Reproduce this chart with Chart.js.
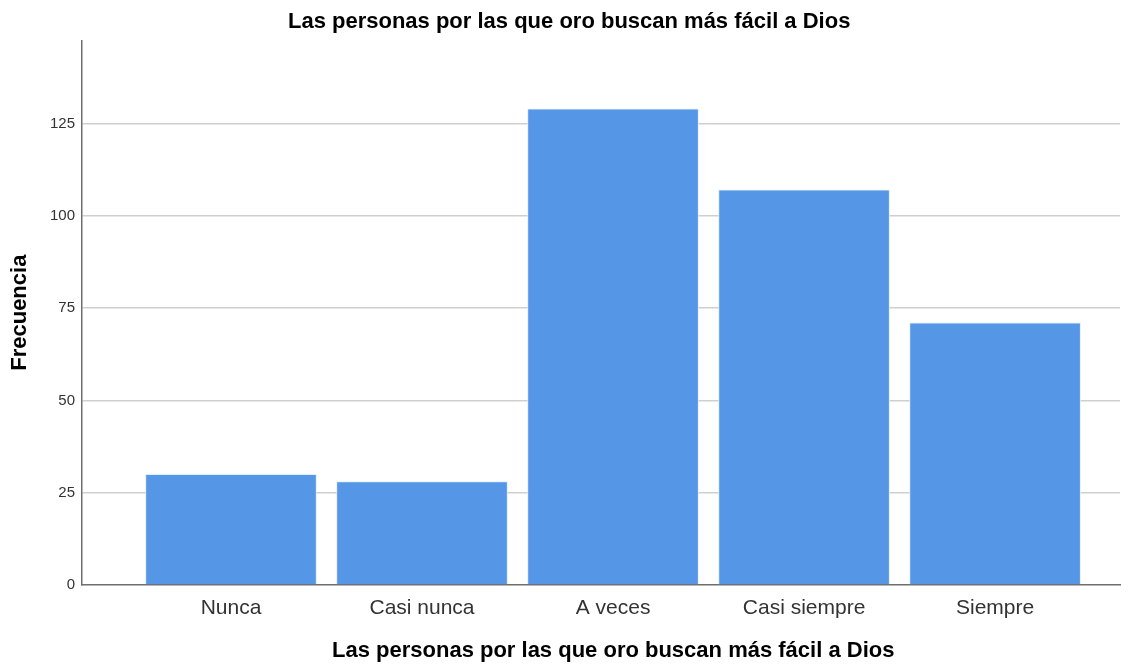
<!DOCTYPE html>
<html>
<head>
<meta charset="utf-8">
<script src="https://cdn.jsdelivr.net/npm/chart.js@4.4.0/dist/chart.umd.min.js"></script>
<style>
  html, body { margin: 0; padding: 0; background: #fff; }
  .chart-box { width: 1135px; height: 664px; }
</style>
</head>
<body>
<div class="chart-box">
    <canvas id="myChart"></canvas>
</div>
<script>
const categories = ["Nunca", "Casi nunca", "A veces", "Casi siempre", "Siempre"];
const frecuencias = [30, 28, 129, 107, 71];
const yTicks = [0, 25, 50, 75, 100, 125];

const chartTitle = "Las personas por las que oro buscan más fácil a Dios";
const fontFamily = "Arial, 'Liberation Sans', sans-serif";
// leading no-break spaces nudge the centred titles right, as in the original
const nbsp = n => "\u00a0".repeat(n);

// setup
const data = {
    datasets: [
        {
            label: "Frecuencia",
            data: frecuencias.map((v, i) => {
                return { x: i, y: v };
            }),
            backgroundColor: "#5596e6",
            borderColor: "rgba(220,235,252,0.9)",
            borderWidth: 1,
            borderSkipped: "bottom",
            barThickness: 171
        }
    ]
};

// config
const config = {
    type: "bar",
    data,
    options: {
        responsive: false,
        animation: false,
        layout: { padding: { top: 0, right: 15, bottom: 0, left: 0 } },
        plugins: {
            legend: { display: false },
            tooltip: { enabled: false },
            title: {
                display: true,
                text: nbsp(3) + chartTitle,
                color: "#000",
                font: { family: fontFamily, size: 22, weight: "bold" },
                padding: { top: 9, bottom: 5 }
            }
        },
        scales: {
            x: {
                type: "linear",
                offset: false,
                min: -0.78,
                max: 4.654,
                afterBuildTicks: scale => {
                    scale.ticks = categories.map((c, i) => ({ value: i }));
                },
                afterFit: scale => {
                    scale.height = 79;
                },
                grid: { display: false, drawTicks: false, offset: false },
                border: { display: true, color: "#6e6e6e", width: 1.5 },
                ticks: {
                    autoSkip: false,
                    maxRotation: 0,
                    padding: 11,
                    color: "#333",
                    font: { family: fontFamily, size: 21 },
                    callback: value => categories[value]
                },
                title: {
                    display: true,
                    text: nbsp(4) + chartTitle,
                    color: "#000",
                    font: { family: fontFamily, size: 22, weight: "bold" },
                    padding: { top: 0, bottom: 0 }
                }
            },
            y: {
                min: 0,
                max: 147.5,
                afterBuildTicks: scale => {
                    scale.ticks = yTicks.map(v => ({ value: v }));
                },
                afterFit: scale => {
                    scale.width = 82;
                },
                grid: {
                    drawTicks: false,
                    lineWidth: 1.5,
                    color: ctx => (ctx.tick && ctx.tick.value === 0 ? "rgba(0,0,0,0)" : "#cfcfcf")
                },
                border: { display: true, color: "#6e6e6e", width: 1.5 },
                ticks: {
                    padding: 7,
                    color: "#333",
                    font: { family: fontFamily, size: 15 }
                },
                title: {
                    display: true,
                    text: "Frecuencia",
                    color: "#000",
                    font: { family: fontFamily, size: 22, weight: "bold" },
                    padding: { top: 7, bottom: 0 }
                }
            }
        }
    }
};

// render
const canvas = document.getElementById("myChart");
canvas.width = 1135;
canvas.height = 664;
window.myChart = new Chart(canvas, config);
</script>
</body>
</html>
